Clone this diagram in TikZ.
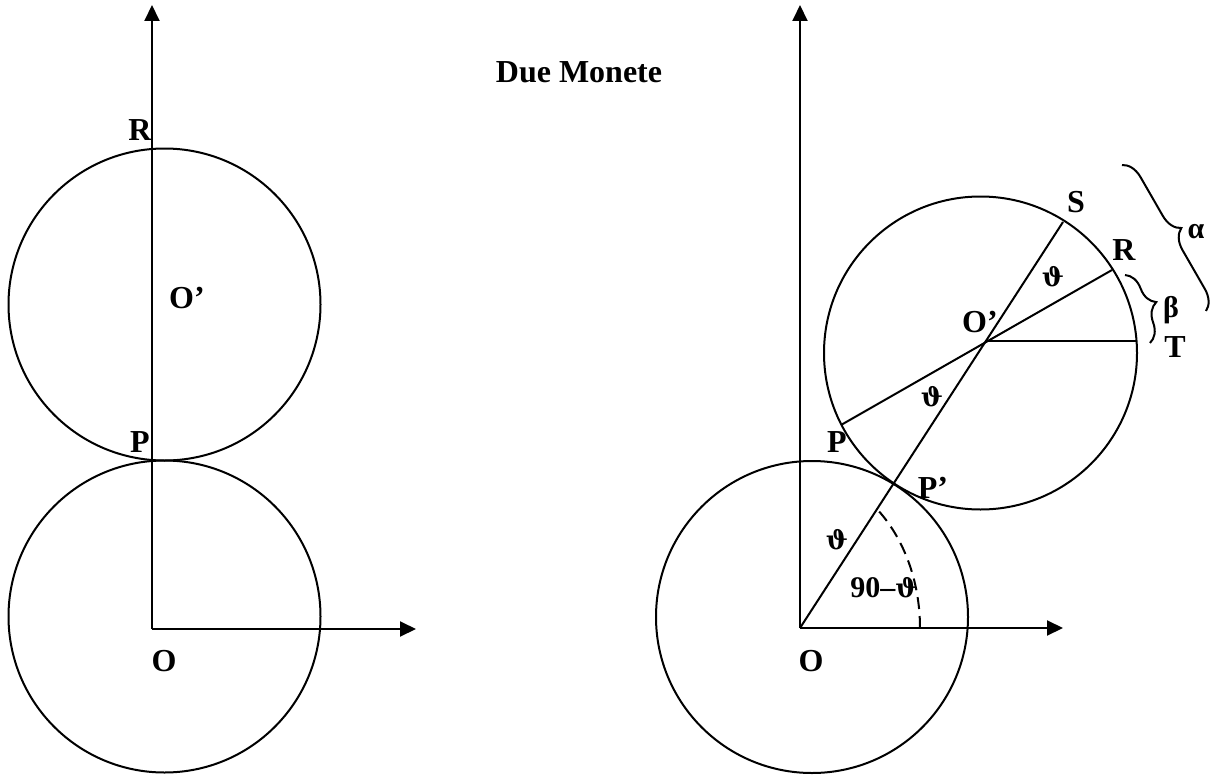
\documentclass[tikz,border=0pt]{standalone}
\usepackage{fontspec}
\setmainfont{Liberation Serif}
\newfontfamily\dvserif{DejaVu Serif}
\usetikzlibrary{arrows.meta,decorations.pathreplacing}
\begin{document}
\begin{tikzpicture}[x=1pt,y=-1pt]
\tikzset{
  geo/.style={line width=2pt},
  axisarrow/.style={line width=2pt,-{Triangle[length=16pt,width=15pt]}},
  lbl/.style={font=\fontsize{32}{38}\selectfont\bfseries,inner sep=0pt,anchor=base},
  grk/.style={font=\fontsize{30}{36}\selectfont\bfseries,inner sep=0pt,anchor=north},
  brc/.style={line width=2pt,decorate,decoration={brace,amplitude=20pt}},
  dsh/.style={line width=2pt,dash pattern=on 12pt off 7pt}
}
\newcommand{\vth}{{\dvserif\fontsize{26}{30}\selectfont\bfseries ϑ}}
\useasboundingbox (0,0) rectangle (1213,776);

% ---------- left figure ----------
\coordinate (LO) at (152,629);
\coordinate (LY) at (152,5);
\coordinate (LX) at (416,629);
\draw[axisarrow] (LO) -- (LY);
\draw[axisarrow] (LO) -- (LX);
\draw[geo] (164.5,304.5) circle[radius=156];
\draw[geo] (164.5,616.5) circle[radius=156];
\node[lbl] (lR) at (140,140) {R};
\node[lbl] (lOp) at (187,308) {O’};
\node[lbl] (lP) at (140,452) {P};
\node[lbl] (lO) at (164,671) {O};

% ---------- right figure ----------
\node[lbl] (title) at (579,83) {Due Monete};
\coordinate (RO) at (800,628);
\coordinate (RY) at (800,5);
\coordinate (RX) at (1063,628);
\draw[axisarrow] (RO) -- (RY);
\draw[axisarrow] (RO) -- (RX);
\draw[geo] (812,617) circle[radius=156];
\draw[geo] (980.5,353) circle[radius=156.5];
\coordinate (S) at (1063,222);
\coordinate (Rp) at (1112,270);
\coordinate (Pp) at (841,425);
\coordinate (Oc) at (987,341);
\coordinate (T) at (1136,341);
\draw[geo] (RO) -- (S);
\draw[geo] (Rp) -- (Pp);
\draw[geo] (Oc) -- (T);
\draw[dsh] (920,628) arc[start angle=0,end angle=-51,x radius=120,y radius=155];

\node[lbl] (rS) at (1076,212) {S};
\node[lbl] (rR) at (1124,260) {R};
\node[lbl] (rOp) at (980,332) {O’};
\node[lbl] (rT) at (1175,357) {T};
\node[lbl] (rP) at (837,452) {P};
\node[lbl] (rPp) at (933,498) {P’};
\node[lbl] (rO) at (811,671) {O};
\node[grk] (th1) at (1053,266) {\vth};
\node[grk] (th2) at (932,386) {\vth};
\node[grk] (th3) at (837,529) {\vth};
\node[grk] (nt) at (884,577) {90–\vth};

\coordinate (B1a) at (1122,165);
\coordinate (B1b) at (1206,311);
\coordinate (B2a) at (1125,275);
\coordinate (B2b) at (1150,343);
\draw[brc] (B1a) -- (B1b);
\draw[brc] (B2a) -- (B2b);
\node[grk] (al) at (1196,224) {α};
\node[grk] (be) at (1171,296) {β};
\end{tikzpicture}
\end{document}
